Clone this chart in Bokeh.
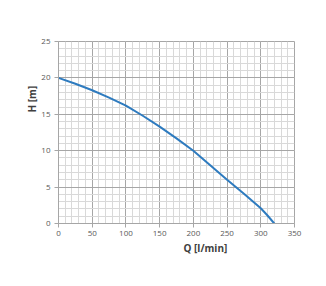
from bokeh.plotting import figure
from bokeh.models import Range1d, SingleIntervalTicker, Title
from bokeh.embed import file_html
from bokeh.resources import INLINE

q = [0, 25, 50, 75, 100, 125, 150, 175, 200, 225, 250, 275, 300, 310, 320]
h = [20.0, 19.2, 18.3, 17.3, 16.2, 14.8, 13.3, 11.7, 10.0, 8.0, 6.0, 4.1, 2.1, 1.1, 0.0]

p = figure(width=326, height=286, output_backend="svg", toolbar_location=None,
           x_range=Range1d(0, 350), y_range=Range1d(0, 25))
p.min_border_left = 58
p.min_border_right = 32
p.min_border_top = 41
p.min_border_bottom = 63
p.background_fill_color = "white"
p.border_fill_color = "white"
p.outline_line_color = "#a6a6a6"

p.xaxis.ticker = SingleIntervalTicker(interval=50, num_minor_ticks=5)
p.yaxis.ticker = SingleIntervalTicker(interval=5, num_minor_ticks=5)

for ax in (p.xaxis[0], p.yaxis[0]):
    ax.axis_line_color = "#a6a6a6"
    ax.major_tick_line_color = "#a6a6a6"
    ax.major_tick_out = 4
    ax.major_tick_in = 0
    ax.minor_tick_line_color = None
    ax.major_label_text_font = "Open Sans"
    ax.major_label_text_font_size = "8px"
    ax.major_label_text_color = "#595959"

p.xaxis.major_label_standoff = 3
p.yaxis.major_label_standoff = 4

xt = Title(text="Q [l/min]", align="left", offset=125,
           text_font="Open Sans", text_font_size="10px", text_font_style="bold",
           text_color="#404040", standoff=0)
p.add_layout(xt, "below")

yt = Title(text="H [m]", align="left", offset=111,
           text_font="Open Sans", text_font_size="10px", text_font_style="bold",
           text_color="#404040", standoff=0)
p.add_layout(yt, "left")

for g in (p.xgrid[0], p.ygrid[0]):
    g.grid_line_color = "#a6a6a6"
    g.grid_line_width = 1
    g.minor_grid_line_color = "#d9d9d9"
    g.minor_grid_line_width = 1

p.line(q, h, line_color="#2e7bbf", line_width=2)

open("out.html", "w").write(file_html(p, INLINE))
